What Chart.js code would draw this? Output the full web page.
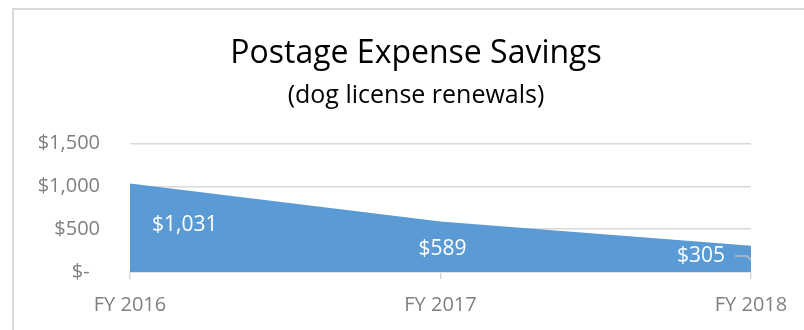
<!DOCTYPE html>
<html>
<head>
<meta charset="utf-8">
<title>Postage Expense Savings</title>
<script src="https://cdn.jsdelivr.net/npm/chart.js@4.4.0/dist/chart.umd.min.js"></script>
<style>
  html, body { margin: 0; padding: 0; background: #fff; overflow: hidden; }
  #wrap { width: 804px; height: 330px; overflow: hidden; }
</style>
</head>
<body>
<!-- the chart object runs a little past the right edge of the window -->
<div id="wrap"><canvas id="savingsChart" width="832" height="330"></canvas></div>
<script>
// Fiscal years and postage saved each year (dollars)
const fiscalYears = ['FY 2016', 'FY 2017', 'FY 2018'];
const savings = [1031, 589, 305];

// Value axis, accounting style, $0 to $1,500 in steps of $500
const yTickValues = [0, 500, 1000, 1500];
const yTickLabels = ['$-', '$500', '$1,000', '$1,500'];

const FILL_BLUE = '#5b9bd5';
const GRID_GREY = '#d9d9d9';
const AXIS_TEXT = '#808080';

Chart.defaults.font.family = "'Open Sans', 'Noto Sans', sans-serif";

function money(v) {
    return '$' + v.toLocaleString('en-US');
}

// Thin grey frame round the chart object
const chartFrame = {
    id: 'chartFrame',
    beforeDraw(chart) {
        const ctx = chart.ctx;
        ctx.save();
        ctx.strokeStyle = GRID_GREY;
        ctx.lineWidth = 2;
        ctx.strokeRect(13, 9, 806, chart.height + 40);
        ctx.restore();
    }
};

// White value labels sitting inside the filled area
const areaLabels = {
    id: 'areaLabels',
    afterDatasetsDraw(chart) {
        const ctx = chart.ctx;
        const meta = chart.getDatasetMeta(0);
        const base = chart.scales.y.getPixelForValue(0);
        const last = meta.data.length - 1;

        ctx.save();
        ctx.font = "21px 'Open Sans', sans-serif";
        ctx.fillStyle = '#ffffff';
        ctx.textBaseline = 'middle';

        meta.data.forEach((pt, i) => {
            const text = money(savings[i]);
            const mid = (pt.y + base) / 2;

            if (i === 0) {
                ctx.textAlign = 'left';
                ctx.fillText(text, pt.x + 22, mid - 3);
            } else if (i === last) {
                ctx.textAlign = 'right';
                ctx.fillText(text, pt.x - 26, mid - 3);

                // leader line back to the point
                ctx.strokeStyle = '#bfbfbf';
                ctx.lineWidth = 1.5;
                ctx.beginPath();
                ctx.moveTo(pt.x - 16, mid - 3);
                ctx.lineTo(pt.x - 4, mid - 3);
                ctx.lineTo(pt.x, mid + 1);
                ctx.stroke();
            } else {
                ctx.textAlign = 'center';
                ctx.fillText(text, pt.x + 2, mid + 2);
            }
        });
        ctx.restore();
    }
};

new Chart(document.getElementById('savingsChart'), {
    type: 'line',
    data: {
        labels: fiscalYears,
        datasets: [{
            data: savings,
            fill: 'origin',
            backgroundColor: FILL_BLUE,
            borderColor: FILL_BLUE,
            borderWidth: 0,
            pointRadius: 0,
            tension: 0
        }]
    },
    options: {
        responsive: false,
        animation: false,
        events: [],
        layout: {
            padding: { left: 14, right: 14, top: 0, bottom: 0 }
        },
        plugins: {
            legend: { display: false },
            tooltip: { enabled: false },
            title: {
                display: true,
                text: 'Postage Expense Savings',
                color: '#000',
                font: { size: 32, weight: 'normal', lineHeight: 1.2 },
                padding: { top: 35, bottom: 0 }
            },
            subtitle: {
                display: true,
                text: '(dog license renewals)',
                color: '#000',
                font: { size: 25, weight: 'normal', lineHeight: 1.2 },
                padding: { top: 7, bottom: 33 }
            }
        },
        scales: {
            x: {
                offset: false,
                grid: {
                    drawOnChartArea: false,
                    drawTicks: true,
                    tickLength: 7,
                    color: GRID_GREY,
                    lineWidth: 1.5
                },
                border: { color: GRID_GREY, width: 1.5 },
                ticks: {
                    color: AXIS_TEXT,
                    font: { size: 20 },
                    padding: 14,
                    maxRotation: 0,
                    autoSkip: false
                },
                afterFit(scale) { scale.height = 58; }
            },
            y: {
                min: yTickValues[0],
                max: yTickValues[yTickValues.length - 1],
                grid: { color: GRID_GREY, lineWidth: 1.5, drawTicks: false },
                border: { display: false },
                ticks: {
                    stepSize: 500,
                    padding: 30,
                    color: AXIS_TEXT,
                    font: { size: 20 },
                    callback: function(value) {
                        const idx = yTickValues.indexOf(value);
                        if (idx < 0) return '';
                        // the dash sits a little left of the digit column
                        return idx === 0 ? yTickLabels[idx] + '  ' : yTickLabels[idx];
                    }
                },
                afterFit(scale) { scale.width = 116; }
            },
            // empty margin on the right so the plot stops short of the frame
            gutter: {
                type: 'linear',
                position: 'right',
                grid: { display: false },
                border: { display: false },
                ticks: { display: false },
                afterFit(scale) { scale.width = 67; }
            }
        }
    },
    plugins: [chartFrame, areaLabels]
});
</script>
</body>
</html>
